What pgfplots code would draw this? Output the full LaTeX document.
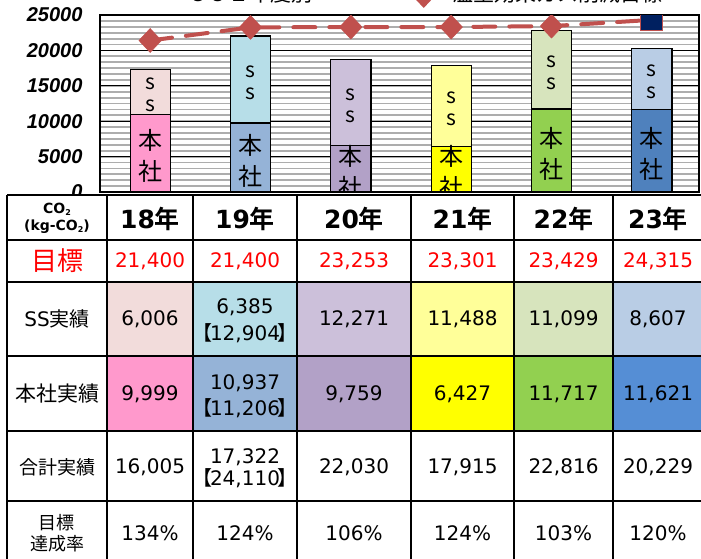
\documentclass[border=0pt]{standalone}
\usepackage{fontspec}
\usepackage{pgfplots}
\pgfplotsset{compat=1.18}
\setmainfont{DejaVu Sans}
\newfontfamily\jp{Noto Sans CJK JP}[BoldFont={Noto Sans CJK JP Bold}]
\newfontfamily\tickf{Liberation Sans}
\definecolor{ssA}{HTML}{F2DCDB}
\definecolor{hqA}{HTML}{FF99CC}
\definecolor{ssB}{HTML}{B7DEE8}
\definecolor{hqB}{HTML}{95B3D7}
\definecolor{ssC}{HTML}{CCC0DA}
\definecolor{hqC}{HTML}{B2A1C7}
\definecolor{ssD}{HTML}{FFFF99}
\definecolor{hqD}{HTML}{FFFF00}
\definecolor{ssE}{HTML}{D7E4BD}
\definecolor{hqE}{HTML}{92D050}
\definecolor{ssF}{HTML}{B9CDE5}
\definecolor{hqF}{HTML}{4F81BD}
\definecolor{hqFt}{HTML}{558ED5}
\definecolor{tgt}{HTML}{C0504D}
\definecolor{navy}{HTML}{002060}
\definecolor{tred}{HTML}{FF0000}
\pgfplotsset{barst/.style={ybar, bar width=0.4, bar shift=0pt, draw=black, line width=1.2pt}}
\newcommand\num{\fontsize{20}{24}\selectfont}
\tikzset{ssl/.style={font=\jp\fontsize{21}{22}\selectfont, align=center, yshift=-3pt},
         hql/.style={font=\jp\fontsize{24}{31}\selectfont, align=center, yshift=-3pt}}
\begin{document}
\begin{tikzpicture}[x=1pt,y=1pt]
\useasboundingbox (0,0) rectangle (701,-558);
\begin{axis}[
  at={(100pt,-192pt)}, anchor=south west, scale only axis,
  width=599pt, height=177pt,
  xmin=-0.5, xmax=5.47, ymin=0, ymax=25000,
  xtick=\empty,
  ytick={0,5000,...,25000},
  minor ytick={833.33,1666.67,...,25000},
  ymajorgrids, yminorgrids,
  major grid style={black, line width=0.8pt},
  minor grid style={black!32, line width=1.8pt},
  major tick length=0pt, minor tick length=0pt,
  axis line style={black, line width=2.5pt},
  scaled y ticks=false,
  yticklabel style={font=\tickf\bfseries\itshape\fontsize{20}{20}\selectfont,
    /pgf/number format/assume math mode=true, /pgf/number format/1000 sep={}, xshift=-14pt},
  clip marker paths=true,
  legend style={at={(axis description cs:0.49,1.124)}, anchor=west, draw=none, fill=none,
    font=\jp\fontsize{21}{21}\selectfont},
  legend image code/.code={\draw[#1, mark repeat=2, mark phase=2] plot coordinates {(0pt,0pt)(25pt,0pt)(50pt,0pt)};},
]
% bars: total (SS colour) then head office overlay
\addplot[barst, fill=ssA, forget plot] coordinates {(0,17322)};
\addplot[barst, fill=hqA, forget plot] coordinates {(0,10937)};
\addplot[barst, fill=ssB, forget plot] coordinates {(1,22030)};
\addplot[barst, fill=hqB, forget plot] coordinates {(1,9759)};
\addplot[barst, fill=ssC, forget plot] coordinates {(2,18750)};
\addplot[barst, fill=hqC, forget plot] coordinates {(2,6550)};
\addplot[barst, fill=ssD, forget plot] coordinates {(3,17915)};
\addplot[barst, fill=hqD, forget plot] coordinates {(3,6427)};
\addplot[barst, fill=ssE, forget plot] coordinates {(4,22816)};
\addplot[barst, fill=hqE, forget plot] coordinates {(4,11717)};
\addplot[barst, fill=ssF, forget plot] coordinates {(5,20229)};
\addplot[barst, fill=hqF, forget plot] coordinates {(5,11621)};
% labels
\node[ssl] at (axis cs:0,14130) {s\\s};
\node[hql] at (axis cs:0,5468) {本\\社};
\node[ssl] at (axis cs:1,15895) {s\\s};
\node[hql] at (axis cs:1,4880) {本\\社};
\node[ssl] at (axis cs:2,12650) {s\\s};
\node[hql] at (axis cs:2,3275) {本\\社};
\node[ssl] at (axis cs:3,12171) {s\\s};
\node[hql] at (axis cs:3,3214) {本\\社};
\node[ssl] at (axis cs:4,17267) {s\\s};
\node[hql] at (axis cs:4,5859) {本\\社};
\node[ssl] at (axis cs:5,15925) {s\\s};
\node[hql] at (axis cs:5,5811) {本\\社};
% target line
\addplot[forget plot, tgt, line width=4pt, dash pattern=on 22pt off 14pt, line cap=round]
  coordinates {(0,21400) (1,23253) (2,23301) (3,23301) (4,23429) (5,24315)};
\addplot[forget plot, only marks, mark=diamond*, mark size=12pt,
  mark options={fill=tgt, draw=tgt, xscale=1.25, line width=0.5pt}]
  coordinates {(0,21400) (1,23253) (2,23301) (3,23301) (4,23429)};
\addplot[forget plot, only marks, mark=square*, mark size=11pt,
  mark options={fill=navy, draw=tgt, line width=1.2pt}]
  coordinates {(5,24315)};
\addlegendimage{tgt, line width=4pt, dash pattern=on 22pt off 14pt, mark=diamond*, mark size=12pt, mark options={solid, fill=tgt, xscale=1.25}}
\addlegendentry{温室効果ガス削減目標}
\end{axis}
% title (cut at top)
\node[font=\jp\fontsize{21}{21}\selectfont, anchor=base] at (249,-1) {ＣＯ２年度別};
% table
\fill[white] (7,-195) rectangle (720,-600);
\foreach \xa/\xb/\c in {107/193/ssA, 193/297/ssB, 297/411/ssC, 411/514/ssD, 514/613/ssE, 613/720/ssF}
  \fill[\c] (\xa,-282) rectangle (\xb,-356);
\foreach \xa/\xb/\c in {107/193/hqA, 193/297/hqB, 297/411/hqC, 411/514/hqD, 514/613/hqE, 613/720/hqFt}
  \fill[\c] (\xa,-356) rectangle (\xb,-431);
\foreach \y in {195,240,282,356,431,501}
  \draw[line width=2.6pt] (7,-\y) -- (720,-\y);
\foreach \x in {7,107,193,297,411,514,613}
  \draw[line width=2.6pt] (\x,-195) -- (\x,-600);
% header
\node[font=\bfseries\fontsize{14}{17}\selectfont, align=center] at (57,-218)
  {CO\raisebox{-2pt}{\fontsize{8}{8}\selectfont 2}\\(kg-CO\raisebox{-2pt}{\fontsize{8}{8}\selectfont 2})};
\foreach \x/\t in {150/18, 245/19, 354/20, 462.5/21, 563.5/22, 658/23}
  \node[font=\bfseries\fontsize{25}{25}\selectfont] at (\x,-219) {\t{\jp 年}};
% target row
\node[text=tred, font=\jp\fontsize{26}{26}\selectfont] at (57,-261) {目標};
\foreach \x/\t in {150/{21,400}, 245/{21,400}, 354/{23,253}, 462.5/{23,301}, 563.5/{23,429}, 658/{24,315}}
  \node[text=tred, font=\num] at (\x,-261) {\t};
% SS row
\node[font=\fontsize{20}{20}\selectfont] at (57,-319) {SS{\jp 実績}};
\foreach \x/\t in {150/{6,006}, 354/{12,271}, 462.5/{11,488}, 563.5/{11,099}, 658/{8,607}}
  \node[font=\num] at (\x,-319) {\t};
\node[font=\num] at (245,-307) {6,385};
\node[font=\num] at (245,-333) {{\jp 【}\kern-2pt12,904\kern-2pt{\jp 】}};
% HQ row
\node[font=\jp\fontsize{21}{21}\selectfont] at (57,-394) {本社実績};
\foreach \x/\t in {150/{9,999}, 354/{9,759}, 462.5/{6,427}, 563.5/{11,717}, 658/{11,621}}
  \node[font=\num] at (\x,-394) {\t};
\node[font=\num] at (245,-383) {10,937};
\node[font=\num] at (245,-408) {{\jp 【}\kern-2pt11,206\kern-2pt{\jp 】}};
% total row
\node[font=\jp\fontsize{19}{19}\selectfont] at (57,-467) {合計実績};
\foreach \x/\t in {150/{16,005}, 354/{22,030}, 462.5/{17,915}, 563.5/{22,816}, 658/{20,229}}
  \node[font=\num] at (\x,-467) {\t};
\node[font=\num] at (245,-457) {17,322};
\node[font=\num] at (245,-478) {{\jp 【}\kern-2pt24,110\kern-2pt{\jp 】}};
% rate row
\node[font=\jp\fontsize{18}{21}\selectfont, align=center] at (57,-533) {目標\\達成率};
\foreach \x/\t in {150/134\%, 245/124\%, 354/106\%, 462.5/124\%, 563.5/103\%, 658/120\%}
  \node[font=\num] at (\x,-533) {\t};
\end{tikzpicture}
\end{document}
